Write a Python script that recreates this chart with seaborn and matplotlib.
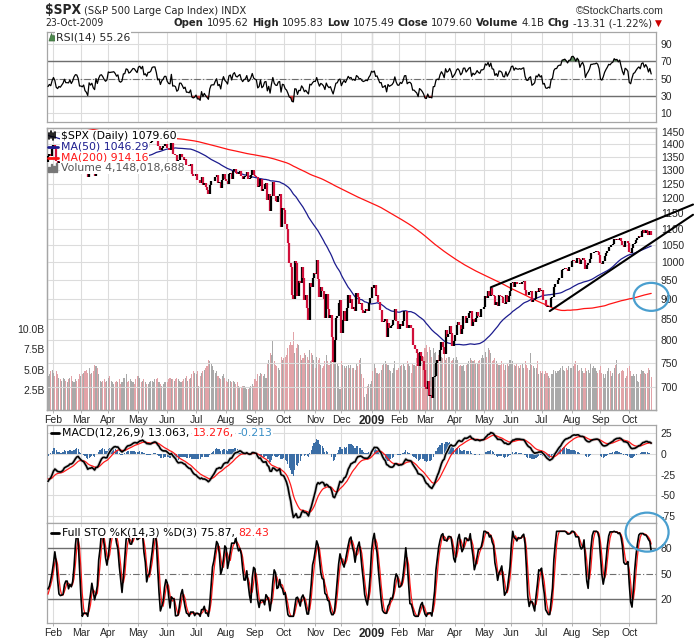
import numpy as np
import pandas as pd
import matplotlib
matplotlib.use("Agg")
import matplotlib.pyplot as plt
import seaborn as sns
from matplotlib import font_manager as fm
from matplotlib.patches import Ellipse, Polygon, Rectangle
from matplotlib.lines import Line2D

# ------------------------------------------------------------------ data
# S&P 500 daily closes (Apr 2007 - Oct 23 2009); 2007 part only feeds the moving averages
close_2007 = [
    1443, 1458, 1459, 1462, 1462, 1466, 1457, 1466, 1471, 1481, 1484, 1486, 1484, 1495, 1490, 1490, 1505, 1505, 1495, 1482,
    1487, 1495, 1502, 1505, 1509, 1507, 1512, 1491, 1505, 1503, 1501, 1514, 1512, 1522, 1525, 1524, 1522, 1507, 1515, 1519, 1530, 1531,
    1536, 1539, 1530, 1517, 1490, 1507, 1509, 1493, 1515, 1522, 1533, 1532, 1535, 1512, 1522, 1503, 1497, 1492, 1506, 1505, 1503,
    1519, 1524, 1525, 1531, 1532, 1510, 1519, 1547, 1552, 1549, 1550, 1546, 1553, 1534, 1541, 1511, 1518, 1482, 1459, 1474, 1455,
    1465, 1473, 1434, 1468, 1477, 1497, 1454, 1453, 1452, 1426, 1407, 1411, 1445, 1446, 1448, 1464, 1463, 1479, 1466, 1433, 1464, 1457, 1474,
    1489, 1472, 1478, 1454, 1452, 1471, 1471, 1483, 1484, 1477, 1519, 1529, 1519, 1525, 1518, 1518, 1526, 1532, 1527,
    1547, 1547, 1540, 1543, 1558, 1553, 1565, 1562, 1555, 1562, 1548, 1538, 1541, 1540, 1501, 1507, 1520, 1516, 1515, 1536, 1540, 1531, 1549,
    1508, 1510, 1502, 1520, 1475, 1475, 1453, 1439, 1481, 1470, 1452, 1459, 1434, 1439, 1416, 1441, 1407, 1429, 1470, 1470, 1481,
    1472, 1462, 1485, 1508, 1505, 1515, 1477, 1486, 1489, 1468, 1446, 1455, 1454, 1461, 1484, 1497, 1497, 1476, 1478, 1468,
]
close_2008 = [
    1447, 1447, 1411, 1416, 1390, 1409, 1420, 1401, 1416, 1380, 1373, 1333, 1325, 1310, 1339, 1352, 1331, 1353, 1363, 1355, 1379,
    1396, 1380, 1336, 1326, 1336, 1331, 1340, 1349, 1367, 1349, 1349, 1348, 1360, 1343, 1353, 1371, 1381, 1380, 1367, 1331,
    1331, 1327, 1333, 1304, 1294, 1273, 1321, 1308, 1316, 1289, 1277, 1330, 1299, 1330, 1350, 1353, 1342, 1326, 1316, 1323,
    1371, 1368, 1370, 1371, 1373, 1366, 1355, 1361, 1333, 1329, 1334, 1365, 1366, 1391, 1389, 1376, 1380, 1389, 1398, 1397, 1391, 1386,
    1410, 1414, 1407, 1418, 1393, 1397, 1389, 1404, 1404, 1409, 1424, 1426, 1426, 1413, 1391, 1394, 1375, 1386, 1391, 1400, 1400,
    1385, 1378, 1377, 1405, 1361, 1362, 1358, 1336, 1340, 1361, 1361, 1351, 1338, 1342, 1318, 1318, 1315, 1322, 1284, 1278, 1280,
    1285, 1262, 1262, 1253, 1274, 1245, 1254, 1240, 1229, 1215, 1246, 1260, 1261, 1261, 1273, 1282, 1253, 1257, 1235, 1264, 1284, 1267,
    1260, 1249, 1285, 1290, 1267, 1297, 1306, 1290, 1286, 1293, 1298, 1278, 1267, 1275, 1278, 1292, 1267, 1271, 1282, 1301, 1283,
    1278, 1275, 1237, 1242, 1268, 1225, 1231, 1250, 1252, 1193, 1214, 1157, 1207, 1255, 1208, 1189, 1186, 1209, 1213, 1106, 1166,
    1161, 1115, 1099, 1057, 996, 985, 910, 899, 1003, 998, 908, 946, 941, 986, 956, 896, 909, 877, 848, 941, 930, 954, 969,
    966, 1006, 953, 904, 931, 920, 899, 853, 912, 873, 851, 860, 807, 752, 800, 852, 857, 888, 896,
    816, 848, 870, 845, 876, 910, 889, 899, 873, 880, 869, 914, 905, 886, 888, 872, 864, 869, 873, 870, 890, 903,
]
close_2009 = [
    932, 927, 935, 907, 910, 891, 871, 872, 842, 844, 850, 806, 841, 828, 832, 836, 846, 874, 845, 826,
    825, 838, 832, 845, 869, 870, 828, 834, 835, 827, 789, 789, 779, 770, 743, 773, 765, 753, 735,
    700, 696, 712, 682, 683, 677, 720, 721, 750, 756, 753, 778, 795, 785, 768, 823, 806, 813, 832, 816, 787, 798,
    811, 834, 843, 835, 815, 825, 857, 858, 841, 852, 865, 870, 832, 850, 843, 851, 866, 858, 855, 873, 873,
    878, 907, 903, 920, 907, 929, 909, 908, 884, 893, 882, 909, 908, 904, 888, 887, 910, 893, 906, 919,
    942, 945, 931, 943, 940, 939, 942, 940, 944, 946, 923, 911, 910, 918, 921, 893, 896, 900, 921, 918, 927, 919,
    923, 896, 898, 881, 879, 882, 879, 901, 905, 932, 940, 940, 951, 954, 954, 977, 979, 982, 979, 975, 986, 987,
    1003, 1005, 1002, 997, 1010, 1007, 994, 1006, 1012, 1005, 979, 990, 997, 1007, 1026, 1026, 1028, 1028, 1031, 1029, 1021,
    998, 995, 1003, 1016, 1025, 1033, 1044, 1043, 1050, 1053, 1068, 1066, 1068, 1064, 1071, 1061, 1051, 1044, 1063, 1061, 1057,
    1029, 1025, 1040, 1054, 1057, 1065, 1072, 1077, 1073, 1093, 1096, 1087, 1097, 1092, 1081, 1093, 1079.6,
]
# daily volume in tenths of a billion shares, from 2008-01-28
volume_2008 = [
    42, 44, 48, 50,
    46, 42, 48, 44, 40, 38, 36, 40, 38, 36, 34, 38, 40, 42, 36, 34, 38, 36, 38, 44,
    42, 44, 46, 48, 50, 46, 52, 44, 46, 48, 56, 54, 52, 44, 36, 34, 36, 38, 34, 36,
    40, 42, 36, 34, 32, 34, 36, 34, 38, 32, 34, 40, 40, 44, 34, 36, 38, 36, 34, 32, 38, 42,
    42, 40, 34, 36, 38, 34, 32, 32, 34, 36, 36, 34, 38, 38, 40, 34, 32, 30, 32, 34, 34,
    34, 38, 40, 38, 38, 36, 38, 40, 38, 36, 34, 36, 38, 40, 42, 36, 38, 40, 44, 48, 46,
    44, 48, 30, 42, 46, 48, 50, 52, 54, 62, 60, 58, 54, 50, 46, 48, 42, 40, 38, 42, 44, 40,
    36, 34, 38, 36, 34, 36, 34, 32, 34, 30, 28, 28, 30, 30, 28, 26, 26, 28, 30, 32, 30,
    38, 36, 44, 42, 46, 44, 42, 44, 40, 58, 62, 70, 68, 86, 60, 56, 54, 52, 50, 66, 62,
    64, 66, 68, 76, 80, 84, 80, 96, 70, 76, 82, 80, 68, 62, 64, 70, 68, 66, 62, 74, 70, 68, 62,
    52, 66, 62, 64, 56, 52, 54, 60, 68, 60, 56, 60, 62, 70, 76, 64, 58, 54, 26,
    60, 56, 54, 52, 54, 56, 52, 56, 52, 52, 50, 58, 54, 62, 64, 44, 40, 16, 20, 30, 32, 32,
]
volume_2009 = [
    36, 48, 58, 52, 46, 44, 46, 50, 56, 58, 60, 58, 56, 50, 48, 46, 52, 60, 50, 50,
    52, 54, 56, 58, 54, 50, 60, 58, 54, 46, 58, 56, 54, 64, 58, 66, 62, 60, 66,
    76, 80, 72, 78, 74, 66, 76, 70, 72, 62, 68, 64, 66, 64, 72, 62, 64, 66, 66, 60, 62, 64,
    62, 66, 62, 54, 56, 54, 56, 48, 56, 58, 60, 64, 62, 60, 62, 58, 58, 60, 62, 64, 68,
    64, 72, 66, 76, 74, 70, 60, 62, 64, 60, 58, 56, 56, 60, 58, 50, 56, 58, 54, 62,
    58, 60, 56, 54, 58, 54, 52, 56, 58, 52, 60, 56, 52, 50, 70, 56, 54, 52, 52, 60, 44, 48,
    46, 48, 44, 48, 46, 42, 40, 44, 44, 50, 48, 46, 48, 50, 52, 54, 50, 48, 52, 50, 54, 52,
    52, 54, 58, 60, 56, 48, 50, 52, 48, 46, 52, 48, 50, 46, 58, 52, 54, 52, 48, 46, 50,
    54, 46, 44, 40, 44, 48, 52, 48, 42, 46, 52, 56, 62, 44, 46, 48, 50, 48, 40, 42, 52,
    54, 48, 42, 44, 42, 44, 36, 34, 44, 50, 48, 46, 44, 46, 52, 50, 41,
]
nyse_holidays = [
    "2007-04-06", "2007-05-28", "2007-07-04", "2007-09-03", "2007-11-22", "2007-12-25",
    "2008-01-01", "2008-01-21", "2008-02-18", "2008-03-21", "2008-05-26", "2008-07-04",
    "2008-09-01", "2008-11-27", "2008-12-25",
    "2009-01-01", "2009-01-19", "2009-02-16", "2009-04-10", "2009-05-25", "2009-07-03", "2009-09-07",
]
first_visible = "2008-01-28"
price_ticks = [700, 750, 800, 850, 900, 950, 1000, 1050, 1100, 1150, 1200, 1250, 1300, 1350, 1400, 1450]
volume_ticks = [2.5, 5.0, 7.5, 10.0]
rsi_ticks = [10, 30, 50, 70, 90]
macd_ticks = [-75, -50, -25, 0, 25]
sto_ticks = [20, 50, 80]
# hand-drawn trend lines: two anchor points (date, price) each
trend_upper = [("2009-05-08", 930), ("2009-10-23", 1122)]
trend_lower = [("2009-07-10", 869), ("2009-10-23", 1056)]
# highlighted spots (date, value)
circle_price = ("2009-10-23", 905)
circle_sto = ("2009-10-20", 99)

header_pieces = [("Open", True), ("1095.62", False), ("High", True), ("1095.83", False),
                 ("Low", True), ("1075.49", False), ("Close", True), ("1079.60", False),
                 ("Volume", True), ("4.1B", False), ("Chg", True), ("-13.31 (-1.22%)", False)]

# ------------------------------------------------------------------ computations
dates = pd.bdate_range("2007-04-02", "2009-10-23")
dates = dates[~dates.isin(pd.to_datetime(nyse_holidays))]
close = pd.Series(close_2007 + close_2008 + close_2009, index=dates, dtype=float)

ma50 = close.rolling(50).mean()
ma200 = close.rolling(200).mean()
delta = close.diff()
avg_gain = delta.clip(lower=0).ewm(alpha=1 / 14, adjust=False).mean()
avg_loss = (-delta.clip(upper=0)).ewm(alpha=1 / 14, adjust=False).mean()
rsi = 100 - 100 / (1 + avg_gain / avg_loss)
ema12 = close.ewm(span=12, adjust=False).mean()
ema26 = close.ewm(span=26, adjust=False).mean()
macd = ema12 - ema26
signal = macd.ewm(span=9, adjust=False).mean()
hist = macd - signal
hh = close.rolling(14).max()
ll = close.rolling(14).min()
fastk = 100 * (close - ll) / (hh - ll)
slowk = fastk.rolling(3).mean()
slowd = slowk.rolling(3).mean()
prev_close = close.shift(1)

vis = close.index >= pd.Timestamp(first_visible)
vd = close.index[vis]
n = len(vd)
xs = np.arange(n)
df = pd.DataFrame({
    "x": xs, "close": close[vis].values, "prev": prev_close[vis].values,
    "ma50": ma50[vis].values, "ma200": ma200[vis].values, "rsi": rsi[vis].values,
    "macd": macd[vis].values, "signal": signal[vis].values, "hist": hist[vis].values,
    "k": slowk[vis].values, "d": slowd[vis].values,
    "vol": np.array(volume_2008 + volume_2009, dtype=float) * 1e8,
})
up = df["close"] >= df["prev"]
pos_of = {d: i for i, d in enumerate(vd)}

# ------------------------------------------------------------------ figure
sns.set_theme(style="white")
plt.rcParams["font.family"] = ["DejaVu Sans"]
W, H = 700, 639
fig = plt.figure(figsize=(W / 100, H / 100), dpi=100)
fig.patch.set_facecolor("white")
renderer = fig.canvas.get_renderer()


def fx(p):
    return p / W


def fy(p):
    return 1 - p / H


L, R = 47.3, 656.0


def add_axes(top, bottom):
    return fig.add_axes([fx(L), fy(bottom), (R - L) / W, (bottom - top) / H])


ax_rsi = add_axes(32.3, 122)
ax_vol = add_axes(128.3, 410)
ax_price = ax_vol.twinx()
ax_macd = add_axes(425, 523.3)
ax_sto = add_axes(523.3, 622.7)

SPINE = "#a6a6a6"
GRID = "#dcdcdc"
TICKFONT = dict(family=["Liberation Sans", "DejaVu Sans"], size=7.5)

mpos = [i for i in range(1, n) if vd[i].month != vd[i - 1].month]
mlab = ["2009" if vd[i].month == 1 else vd[i].strftime("%b") for i in mpos]
pos2009 = [p for p, l in zip(mpos, mlab) if l == "2009"][0]

for ax in [ax_rsi, ax_vol, ax_price, ax_macd, ax_sto]:
    ax.set_xlim(-0.5, n + 2.5)
    for s in ax.spines.values():
        s.set_color(SPINE)
        s.set_linewidth(0.9)

for ax in [ax_rsi, ax_vol, ax_macd, ax_sto]:
    ax.set_facecolor("white")
    ax.set_xticks(mpos)
    ax.grid(axis="x", color=GRID, lw=0.8, zorder=0)
    ax.axvline(pos2009, color="#b0b0b0", lw=0.9, zorder=0.5)
    ax.set_axisbelow(True)

for ax in [ax_rsi, ax_macd]:
    ax.tick_params(axis="x", length=0, labelbottom=False)
for ax in [ax_vol, ax_sto]:
    ax.set_xticklabels(mlab, fontdict=TICKFONT)
    ax.tick_params(axis="x", length=2, width=0.6, color=SPINE, pad=1.5, bottom=True)
    for t in ax.get_xticklabels():
        if t.get_text() == "2009":
            t.set_fontweight("bold")
            t.set_fontsize(8.5)

# ---------------- RSI panel
ax_rsi.set_ylim(-0.4, 103.6)
ax_rsi.yaxis.tick_right()
ax_rsi.set_yticks(rsi_ticks)
ax_rsi.set_yticklabels([str(v) for v in rsi_ticks], fontdict=TICKFONT)
ax_rsi.tick_params(axis="y", length=0, pad=3)
ax_rsi.grid(axis="y", color=GRID, lw=0.8)
ax_rsi.axhline(70, color="#6e6e6e", lw=1.0, zorder=1)
ax_rsi.axhline(30, color="#6e6e6e", lw=1.0, zorder=1)
ax_rsi.axhline(50, color="#6e6e6e", lw=0.8, dashes=(6, 2, 1, 2), zorder=1)
r = df["rsi"].values
ax_rsi.fill_between(xs, 70, r, where=r > 70, color="#5e8a5e", interpolate=True, zorder=2, lw=0)
ax_rsi.fill_between(xs, 30, r, where=r < 30, color="#c83a3a", interpolate=True, zorder=2, lw=0)
sns.lineplot(x=xs, y=r, ax=ax_rsi, color="black", lw=0.9, zorder=3)

# ---------------- price panel
ax_vol.set_ylim(0, 34.8e9)
ax_vol.set_yticks([v * 1e9 for v in volume_ticks])
ax_vol.set_yticklabels([f"{v:.1f}B" for v in volume_ticks], fontdict=TICKFONT)
ax_vol.tick_params(axis="y", length=0, pad=2, left=True, labelleft=True)
ax_vol.bar(xs, df["vol"], width=0.78, color=np.where(up, "#a9a9a9", "#e2a3a8"), lw=0, zorder=1)

ax_price.set_yscale("log")
ax_price.set_ylim(655, 1465)
ax_price.set_yticks(price_ticks)
ax_price.set_yticklabels([str(v) for v in price_ticks], fontdict=TICKFONT)
ax_price.minorticks_off()
ax_price.tick_params(axis="y", length=0, pad=3.5)
ax_price.tick_params(axis="x", length=0, labelbottom=False)
ax_price.grid(axis="y", color=GRID, lw=0.8, zorder=0)
ax_price.set_axisbelow(True)

lo = np.minimum(df["prev"], df["close"])
hi = np.maximum(df["prev"], df["close"])
ax_price.vlines(xs, lo, hi, colors=np.where(up, "black", "#d0103a"), lw=1.6, zorder=3)
sns.lineplot(x=xs, y=df["ma200"], ax=ax_price, color="#ff1414", lw=0.9, zorder=2)
sns.lineplot(x=xs, y=df["ma50"], ax=ax_price, color="#1c1c8e", lw=0.9, zorder=2)
ax_price.set_xlim(-0.5, n + 2.5)

ext = 30.5
for (d0, p0), (d1, p1) in [trend_upper, trend_lower]:
    i0, i1 = pos_of[pd.Timestamp(d0)], pos_of[pd.Timestamp(d1)]
    slope = (np.log(p1) - np.log(p0)) / (i1 - i0)
    i2 = (n - 1) + ext
    p2 = np.exp(np.log(p0) + slope * (i2 - i0))
    ax_price.add_line(Line2D([i0, i2], [p0, p2], color="black", lw=1.5, clip_on=False, zorder=6))


def circle(ax, spot, wpx, hpx):
    d, v = spot
    disp = ax.transData.transform((pos_of[pd.Timestamp(d)], v))
    c = ax.transAxes.inverted().transform(disp)
    bb = ax.get_position()
    e = Ellipse(c, wpx / (bb.width * W), hpx / (bb.height * H), transform=ax.transAxes,
                fill=False, edgecolor="#4a9fcf", lw=1.6, clip_on=False, zorder=7)
    ax.add_patch(e)


# ---------------- MACD panel
ax_macd.set_ylim(-84.2, 35.1)
ax_macd.yaxis.tick_right()
ax_macd.set_yticks(macd_ticks)
ax_macd.set_yticklabels([str(v) for v in macd_ticks], fontdict=TICKFONT)
ax_macd.tick_params(axis="y", length=0, pad=3)
ax_macd.grid(axis="y", color=GRID, lw=0.8)
ax_macd.bar(xs, df["hist"], width=0.85, color="#3b6ea6", lw=0, zorder=2)
sns.lineplot(x=xs, y=df["macd"], ax=ax_macd, color="#d2d2d2", lw=2.4, zorder=3)
sns.lineplot(x=xs, y=df["signal"], ax=ax_macd, color="#ff1a1a", lw=0.9, zorder=4)
sns.lineplot(x=xs, y=df["macd"], ax=ax_macd, color="black", lw=1.2, zorder=5)

# ---------------- STO panel
ax_sto.set_ylim(-7.5, 109.4)
ax_sto.yaxis.tick_right()
ax_sto.set_yticks(sto_ticks)
ax_sto.set_yticklabels([str(v) for v in sto_ticks], fontdict=TICKFONT)
ax_sto.tick_params(axis="y", length=0, pad=3)
ax_sto.axhline(80, color="#6e6e6e", lw=1.0, zorder=1)
ax_sto.axhline(20, color="#6e6e6e", lw=1.0, zorder=1)
ax_sto.axhline(50, color="#6e6e6e", lw=0.8, dashes=(6, 2, 1, 2), zorder=1)
sns.lineplot(x=xs, y=df["d"], ax=ax_sto, color="#ff1a1a", lw=0.9, zorder=3)
sns.lineplot(x=xs, y=df["k"], ax=ax_sto, color="black", lw=1.2, zorder=4)

for ax in [ax_rsi, ax_vol, ax_price, ax_macd, ax_sto]:
    ax.set_xlabel("")
    ax.set_ylabel("")

circle(ax_price, circle_price, 35, 28)
circle(ax_sto, circle_sto, 43, 39)

# ------------------------------------------------------------------ header texts
HSTRETCH = "normal"
fonts = fm.fontManager.ttflist
if any(f.name == "Liberation Sans Narrow" for f in fonts):
    HF = ["Liberation Sans Narrow", "DejaVu Sans"]
elif any(f.name == "DejaVu Sans" and f.stretch in ("condensed", "semi-condensed") for f in fonts):
    HF = ["DejaVu Sans"]
    HSTRETCH = "condensed"
else:
    HF = ["Liberation Sans", "DejaVu Sans"]
HK = dict(family=HF, fontstretch=HSTRETCH)


def width_of(s, size, **kw):
    t = fig.text(0, 0, s, fontsize=size, **kw)
    w = t.get_window_extent(renderer=renderer).width
    t.remove()
    return w


def fitted(s, target, size0, **kw):
    return size0 * target / width_of(s, size0, **kw)


t_spx = fig.text(fx(45), fy(10.5), "$SPX", fontsize=min(12.5, fitted("$SPX", 36, 12.5, fontweight="bold", **HK)),
                 fontweight="bold", va="center", **HK)
x_after = 45 + t_spx.get_window_extent(renderer=renderer).width + 3
sub = "(S&P 500 Large Cap Index) INDX"
fig.text(fx(x_after), fy(11), sub, fontsize=min(9.5, fitted(sub, 164, 9.5, **HK)), va="center", **HK)
fig.text(fx(664), fy(11), "\u00a9StockCharts.com", fontsize=7.6, family=["Liberation Sans", "DejaVu Sans"],
         va="center", ha="right", color="#333333")
fig.text(fx(45), fy(23), "23-Oct-2009", fontsize=min(9, fitted("23-Oct-2009", 58, 9, **HK)), va="center", **HK)

gap0 = 3.5
tri_w = 9
base = 9.0
total = sum(width_of(s, base, fontweight="bold" if b else "normal", **HK) for s, b in header_pieces)
total += gap0 * len(header_pieces) + tri_w
f = min(1.0, (663 - 174) / total)
hsize = base * f
xcur = 663 - (total * f)
for s, b in header_pieces:
    t = fig.text(fx(xcur), fy(23), s, fontsize=hsize, fontweight="bold" if b else "normal", va="center", **HK)
    xcur += t.get_window_extent(renderer=renderer).width + gap0 * f
fig.text(fx(xcur), fy(23), "\u25bc", fontsize=6.5, color="#cc0000", family=["DejaVu Sans"], va="center")

# ------------------------------------------------------------------ panel legends
LF = dict(fontsize=7.8, family=["DejaVu Sans"], va="center")
WB = dict(facecolor="white", edgecolor="none", pad=0.6)

fig.text(fx(56), fy(37), "RSI(14) 55.26", bbox=WB, **LF)
fig.add_artist(Polygon([[fx(49), fy(41)], [fx(51.5), fy(33.5)], [fx(53), fy(37)], [fx(54), fy(35)], [fx(56), fy(41)]],
                       closed=True, facecolor="#4d8a4d", edgecolor="#3a6a3a", lw=0.5))

rows = [(135.5, "$SPX (Daily) 1079.60", "black"), (146.5, "MA(50) 1046.29", "#1c1c8e"),
        (157.5, "MA(200) 914.16", "#ff1414"), (168.0, "Volume 4,148,018,688", "#555555")]
for y, s, c in rows:
    fig.text(fx(61), fy(y), s, color=c, bbox=WB, **LF)
for dx, y0, y1 in [(49, 133, 139), (51, 131, 138), (53, 133, 140), (55, 132, 138)]:
    fig.add_artist(Line2D([fx(dx), fx(dx)], [fy(y0), fy(y1)], color="black", lw=1.2))
fig.add_artist(Line2D([fx(48), fx(58)], [fy(146.5), fy(146.5)], color="#1c1c8e", lw=2))
fig.add_artist(Line2D([fx(48), fx(58)], [fy(157.5), fy(157.5)], color="#ff1414", lw=2))
for dx, hgt in [(49, 5), (51.5, 8), (54, 6), (56.5, 9)]:
    fig.add_artist(Rectangle((fx(dx - 0.8), fy(172)), 1.6 / W, hgt / H, color="#777777"))

fig.add_artist(Line2D([fx(51), fx(58.5)], [fy(432.7), fy(432.7)], color="black", lw=2))
xcur = 62.5
for s, c in [("MACD(12,26,9) 13.063,", "black"), ("13.276,", "#ff1a1a"), ("-0.213", "#3b8fc6")]:
    t = fig.text(fx(xcur), fy(432.7), s, color=c, bbox=WB, **LF)
    xcur += t.get_window_extent(renderer=renderer).width + 3

fig.add_artist(Line2D([fx(51), fx(58.5)], [fy(532.5), fy(532.5)], color="black", lw=2))
xcur = 62.5
for s, c in [("Full STO %K(14,3) %D(3) 75.87,", "black"), ("82.43", "#ff1a1a")]:
    t = fig.text(fx(xcur), fy(532.5), s, color=c, bbox=WB, **LF)
    xcur += t.get_window_extent(renderer=renderer).width + 3

fig.savefig("out.png", dpi=100, facecolor="white")
